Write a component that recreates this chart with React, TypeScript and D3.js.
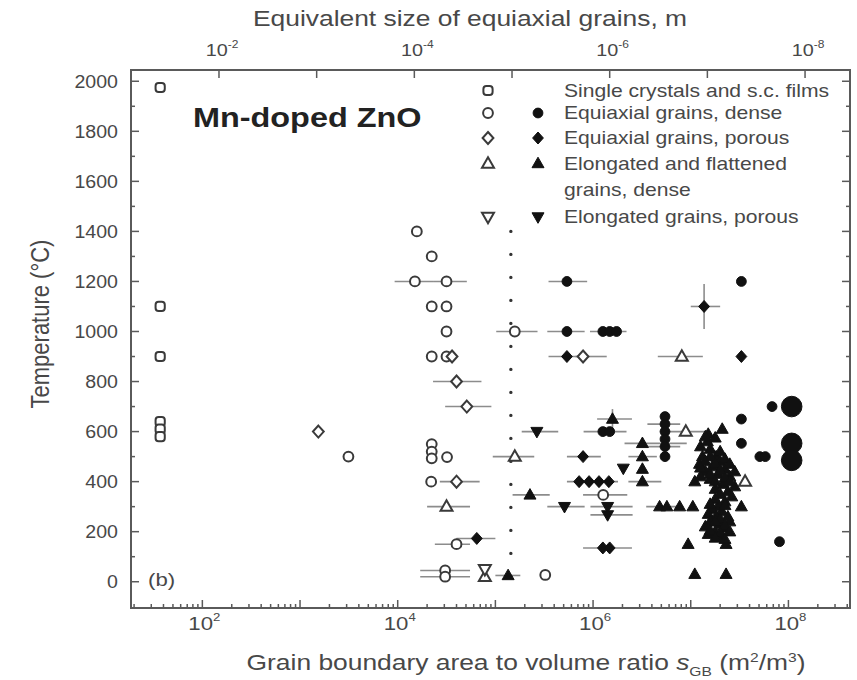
import React from 'react';
import * as d3 from 'd3';

const W = 857;
const H = 680;
const FRAME = { left: 131, right: 850, top: 70, bottom: 608 };

const S_DOMAIN: [number, number] = [18.6, 4.27e8];
const T_DOMAIN: [number, number] = [-105, 2045];
const D_FACTOR = 1.48; // equivalent size d = D_FACTOR / s

const BOTTOM_TICKS = [1e2, 1e4, 1e6, 1e8];
const BOTTOM_EXP = ['2', '4', '6', '8'];
const TOP_TICKS = [1e-2, 1e-4, 1e-6, 1e-8];
const TOP_EXP = ['-2', '-4', '-6', '-8'];
const Y_TICKS = [0, 200, 400, 600, 800, 1000, 1200, 1400, 1600, 1800, 2000];

// [s, T, sLow?, sHigh?]
type P = number[];

const singleCrystals: P[] = [
  [37, 1975], [37, 1100], [37, 900], [37, 640], [37, 610], [37, 580],
];

const eqDenseOpen: P[] = [
  [1.57e4, 1400], [2.23e4, 1300], [1.5e4, 1200, 9.3e3, 2.3e4], [3.16e4, 1200, 2.3e4, 5.1e4],
  [2.23e4, 1100], [3.16e4, 1100], [3.16e4, 1000], [2.23e4, 900], [3.16e4, 900],
  [3.13e3, 500], [2.23e4, 550], [2.23e4, 520], [2.23e4, 493], [3.2e4, 498], [2.2e4, 400],
  [4.0e4, 150, 2.4e4, 5.5e4], [3.06e4, 45, 1.7e4, 5.5e4], [3.06e4, 20, 1.7e4, 5.5e4],
  [3.24e5, 27], [1.58e5, 1000, 1.02e5, 2.7e5], [1.27e6, 347, 7.9e5, 2.24e6],
];

const eqPorousOpen: P[] = [
  [1.54e3, 600], [4.0e4, 800, 2.3e4, 7.2e4], [5.1e4, 700, 3.06e4, 9.1e4],
  [4.0e4, 400, 2.7e4, 6.9e4], [3.6e4, 900], [7.9e5, 900, 6.6e5, 1.38e6],
];

const elongDenseOpen: P[] = [
  [3.16e4, 300, 2.0e4, 5.5e4], [1.58e5, 500, 9.4e4, 2.5e5], [8.1e6, 900, 4.6e6, 1.33e7],
  [8.9e6, 600, 4.9e6, 1.38e7], [3.6e7, 400], [7.8e4, 20],
];

const elongPorousOpen: P[] = [[7.8e4, 50]];

const eqDenseFilled: P[] = [
  [5.4e5, 1200, 3.5e5, 8.7e5], [3.3e7, 1200], [5.4e5, 1000, 3.4e5, 8.2e5],
  [1.26e6, 1000, 9.3e5, 2.2e6], [1.48e6, 1000], [1.74e6, 1000],
  [3.3e7, 650], [6.8e7, 700], [3.3e7, 553], [5.1e7, 500], [5.8e7, 500], [8.1e7, 160],
  [5.45e6, 660], [5.45e6, 630, 3.6e6, 7.8e6], [5.45e6, 600], [5.45e6, 570],
  [5.45e6, 540, 3.6e6, 7.8e6], [5.45e6, 500],
  [1.26e6, 600, 8.0e5, 2.2e6], [1.48e6, 600],
];

const bigCircles: P[] = [[1.08e8, 700], [1.08e8, 553], [1.08e8, 485]];

const eqPorousFilled: P[] = [
  [5.4e5, 900, 3.5e5, 8.0e5], [1.37e7, 1100, 1.0e7, 2.0e7], [3.3e7, 900],
  [7.9e5, 500, 5.4e5, 1.2e6], [7.2e5, 400, 5.4e5, 1.8e6], [9.1e5, 400], [1.15e6, 400], [1.45e6, 400],
  [6.45e4, 173, 4.0e4, 1.0e5], [1.26e6, 135, 7.9e5, 2.5e6], [1.48e6, 135],
];
const vertErr: P[] = [[1.37e7, 1100, 1010, 1190], [1.58e6, 650, 610, 690]];

const elongDenseFilled: P[] = [
  [1.58e6, 650, 1.1e6, 2.5e6], [2.26e5, 347, 1.5e5, 3.6e5],
  [3.2e6, 553, 2.1e6, 9.1e6], [3.2e6, 500, 2.3e6, 4.5e6], [3.2e6, 450], [3.2e6, 400, 2.3e6, 5.0e6],
  [4.8e6, 300, 3.5e6, 8.4e6], [5.7e6, 300], [7.7e6, 300], [1.05e7, 300], [3.3e7, 300],
  [2.1e7, 610], [9.4e6, 150], [2.3e7, 150], [1.1e7, 30], [2.3e7, 30], [1.1e7, 400],
  [1.35e5, 25, 1.0e5, 1.8e5],
];

const elongCluster: P[] = [
  [1.51e7, 590], [1.48e7, 560], [1.58e7, 530], [1.32e7, 500], [1.82e7, 500], [2.0e7, 480],
  [1.23e7, 470], [1.66e7, 460], [2.24e7, 450], [1.41e7, 440], [1.9e7, 430], [2.51e7, 420],
  [1.58e7, 410], [2.14e7, 390], [2.82e7, 440], [1.26e7, 420], [1.78e7, 370], [2.4e7, 360],
  [2.82e7, 380], [2.63e7, 340], [2.24e7, 320], [1.9e7, 300], [1.66e7, 290], [2.09e7, 280],
  [1.51e7, 270], [1.82e7, 260], [2.4e7, 260], [1.58e7, 240], [2.0e7, 230], [1.41e7, 220],
  [2.29e7, 215], [1.78e7, 200], [1.51e7, 190], [2.09e7, 180],
  [1.41e7, 580], [1.78e7, 575], [1.26e7, 540], [2.0e7, 520], [1.58e7, 500], [2.24e7, 490],
  [1.41e7, 480], [1.78e7, 470], [2.51e7, 470], [1.26e7, 455], [2.0e7, 445], [1.58e7, 430],
  [2.24e7, 415], [1.78e7, 400], [2.51e7, 400], [2.0e7, 350], [1.78e7, 330], [2.24e7, 305],
  [1.58e7, 310], [2.0e7, 250], [1.78e7, 240], [2.51e7, 240], [2.24e7, 225], [1.58e7, 205],
  [2.0e7, 195], [2.51e7, 200], [1.78e7, 175], [2.24e7, 170],
];

const elongPorousFilled: P[] = [
  [2.66e5, 600, 1.86e5, 4.4e5], [5.1e5, 300, 3.4e5, 8.2e5], [1.41e6, 300, 9.4e5, 2.54e6],
  [1.41e6, 267, 9.4e5, 2.54e6], [2.04e6, 453],
];

const DOTTED_S = 1.44e5;
const DOTTED_T: [number, number] = [1400, -65];

const LEGEND_LABELS = [
  'Single crystals and s.c. films',
  'Equiaxial grains, dense',
  'Equiaxial grains, porous',
  'Elongated and flattened',
  'grains, dense',
  'Elongated grains, porous',
];
const LEGEND_OPEN = ['square', 'circle', 'diamond', 'up', '', 'down'];
const LEGEND_FILLED = ['', 'circle', 'diamond', 'up', '', 'down'];

const FONT = '"Liberation Sans", Arial, Helvetica, sans-serif';
const TXT = '#484848';

function Marker({ shape, filled, x, y, r = 1 }: any) {
  const fill = filled ? '#111' : '#fff';
  const stroke = filled ? '#111' : '#3a3a3a';
  const sw = filled ? 1 : 2;
  if (shape === 'circle') return <circle cx={x} cy={y} r={4.9 * r} fill={fill} stroke={stroke} strokeWidth={sw} />;
  if (shape === 'square')
    return <rect x={x - 4.6} y={y - 4.6} width={9.2} height={9.2} rx={3} fill={fill} stroke={stroke} strokeWidth={sw} />;
  if (shape === 'diamond')
    return <path d={`M${x},${y - 6}L${x + 5.4},${y}L${x},${y + 6}L${x - 5.4},${y}Z`} fill={fill} stroke={stroke} strokeWidth={sw} />;
  if (shape === 'up')
    return <path d={`M${x},${y - 6.3}L${x + 6},${y + 4.2}L${x - 6},${y + 4.2}Z`} fill={fill} stroke={stroke} strokeWidth={sw} />;
  if (shape === 'down')
    return <path d={`M${x},${y + 6.3}L${x + 6},${y - 4.2}L${x - 6},${y - 4.2}Z`} fill={fill} stroke={stroke} strokeWidth={sw} />;
  return null;
}

function SText({ x, y, sx = 1.2, anchor = 'start', size = 16, weight = 'normal', fill = TXT, rotate, children }: any) {
  return (
    <text
      transform={`translate(${x},${y}) scale(${sx},1)${rotate ? ` rotate(${rotate})` : ''}`}
      textAnchor={anchor}
      fontSize={size}
      fontWeight={weight}
      fill={fill}
      fontFamily={FONT}
    >
      {children}
    </text>
  );
}

export default function App() {
  const x = d3.scaleLog().domain(S_DOMAIN).range([FRAME.left, FRAME.right]);
  const y = d3.scaleLinear().domain(T_DOMAIN).range([FRAME.bottom, FRAME.top]);

  const bottomMinor: number[] = [];
  for (let e = 1; e <= 8; e++) for (let m = 1; m <= 9; m++) {
    const v = m * Math.pow(10, e);
    if (v >= S_DOMAIN[0] && v <= S_DOMAIN[1]) bottomMinor.push(v);
  }
  const topDecades: number[] = [];
  for (let e = 1; e <= 9; e++) {
    const d = Math.pow(10, -e);
    const s = D_FACTOR / d;
    if (s >= S_DOMAIN[0] && s <= S_DOMAIN[1]) topDecades.push(d);
  }
  const yMinor = d3.range(0, 2001, 100);

  const series: [P[], string, boolean, number][] = [
    [singleCrystals, 'square', false, 1],
    [eqDenseOpen, 'circle', false, 1],
    [eqPorousOpen, 'diamond', false, 1],
    [elongDenseOpen, 'up', false, 1],
    [elongPorousOpen, 'down', false, 1],
    [eqDenseFilled, 'circle', true, 1],
    [bigCircles, 'circle', true, 2.1],
    [eqPorousFilled, 'diamond', true, 1],
    [elongDenseFilled, 'up', true, 1],
    [elongCluster, 'up', true, 1],
    [elongPorousFilled, 'down', true, 1],
  ];

  const legendY = [90.5, 113, 138, 163.5, 190, 217];

  return (
    <svg width={W} height={H} style={{ display: 'block', position: 'absolute', left: 0, top: 0, background: '#fff' }}>
      <rect x={0} y={0} width={W} height={H} fill="#fff" />
      {/* error bars */}
      <g stroke="#8c8c8c" strokeWidth={1.6}>
        {series.map(([data], si) =>
          data.filter((d) => d.length >= 4).map((d, i) => (
            <line key={`e${si}-${i}`} x1={x(d[2])} x2={x(d[3])} y1={y(d[1])} y2={y(d[1])} />
          ))
        )}
        {vertErr.map((d, i) => (
          <line key={`v${i}`} x1={x(d[0])} x2={x(d[0])} y1={y(d[2])} y2={y(d[3])} />
        ))}
      </g>
      {/* dotted line */}
      <line
        x1={x(DOTTED_S)} x2={x(DOTTED_S)} y1={y(DOTTED_T[0])} y2={y(DOTTED_T[1])}
        stroke="#333" strokeWidth={3.4} strokeDasharray="0 23" strokeLinecap="round"
      />
      {/* markers */}
      {series.map(([data, shape, filled, r], si) =>
        data.map((d, i) => (
          <Marker key={`m${si}-${i}`} shape={shape} filled={filled} x={x(d[0])} y={y(d[1])} r={r} />
        ))
      )}
      {/* frame */}
      <rect x={FRAME.left} y={FRAME.top} width={FRAME.right - FRAME.left} height={FRAME.bottom - FRAME.top}
        fill="none" stroke="#5a5a5a" strokeWidth={2} />
      {/* ticks */}
      <g stroke="#5a5a5a" strokeWidth={1.5}>
        {bottomMinor.map((v, i) => {
          const major = Math.abs(Math.log10(v) - Math.round(Math.log10(v))) < 1e-9;
          return <line key={`bt${i}`} x1={x(v)} x2={x(v)} y1={FRAME.bottom} y2={FRAME.bottom - (major ? 8 : 4)} />;
        })}
        {topDecades.map((d, i) => (
          <line key={`tt${i}`} x1={x(D_FACTOR / d)} x2={x(D_FACTOR / d)} y1={FRAME.top} y2={FRAME.top + 8} />
        ))}
        {yMinor.map((v, i) => {
          const major = v % 200 === 0;
          const len = major ? 8 : 4;
          return (
            <g key={`yt${i}`}>
              <line x1={FRAME.left} x2={FRAME.left + len} y1={y(v)} y2={y(v)} />
              <line x1={FRAME.right} x2={FRAME.right - len} y1={y(v)} y2={y(v)} />
            </g>
          );
        })}
      </g>
      {/* tick labels */}
      {Y_TICKS.map((v) => (
        <SText key={`yl${v}`} x={118} y={y(v) + 6.5} anchor="end" size={17.5} sx={1.12}>{String(v)}</SText>
      ))}
      {BOTTOM_TICKS.map((v, i) => (
        <SText key={`bl${i}`} x={x(v) + 2} y={630} anchor="middle" size={18.5}>
          10<tspan fontSize={11} dy={-9}>{BOTTOM_EXP[i]}</tspan>
        </SText>
      ))}
      {TOP_TICKS.map((d, i) => (
        <SText key={`tl${i}`} x={x(D_FACTOR / d) + 3} y={56} anchor="middle" size={16.5}>
          10<tspan fontSize={10} dy={-8}>{TOP_EXP[i]}</tspan>
        </SText>
      ))}
      {/* titles */}
      <SText x={470} y={26} anchor="middle" size={22}>Equivalent size of equiaxial grains, m</SText>
      <SText x={526} y={670} anchor="middle" size={22}>
        Grain boundary area to volume ratio <tspan fontStyle="italic">s</tspan>
        <tspan fontSize={13} dy={6}>GB</tspan>
        <tspan dy={-6}> (m</tspan>
        <tspan fontSize={13} dy={-8}>2</tspan>
        <tspan dy={8}>/m</tspan>
        <tspan fontSize={13} dy={-8}>3</tspan>
        <tspan dy={8}>)</tspan>
      </SText>
      <SText x={49} y={324} anchor="middle" size={22} rotate={-90}>Temperature (°C)</SText>
      <SText x={193} y={127} size={27} weight="bold" fill="#222">Mn-doped ZnO</SText>
      <SText x={148} y={586} size={18.5}>(b)</SText>
      {/* legend */}
      {LEGEND_LABELS.map((t, i) => (
        <g key={`lg${i}`}>
          <Marker shape={LEGEND_OPEN[i]} filled={false} x={488} y={legendY[i]} />
          <Marker shape={LEGEND_FILLED[i]} filled={true} x={538} y={legendY[i]} />
          <SText x={564} y={legendY[i] + 6} size={17.6}>{t}</SText>
        </g>
      ))}
    </svg>
  );
}
